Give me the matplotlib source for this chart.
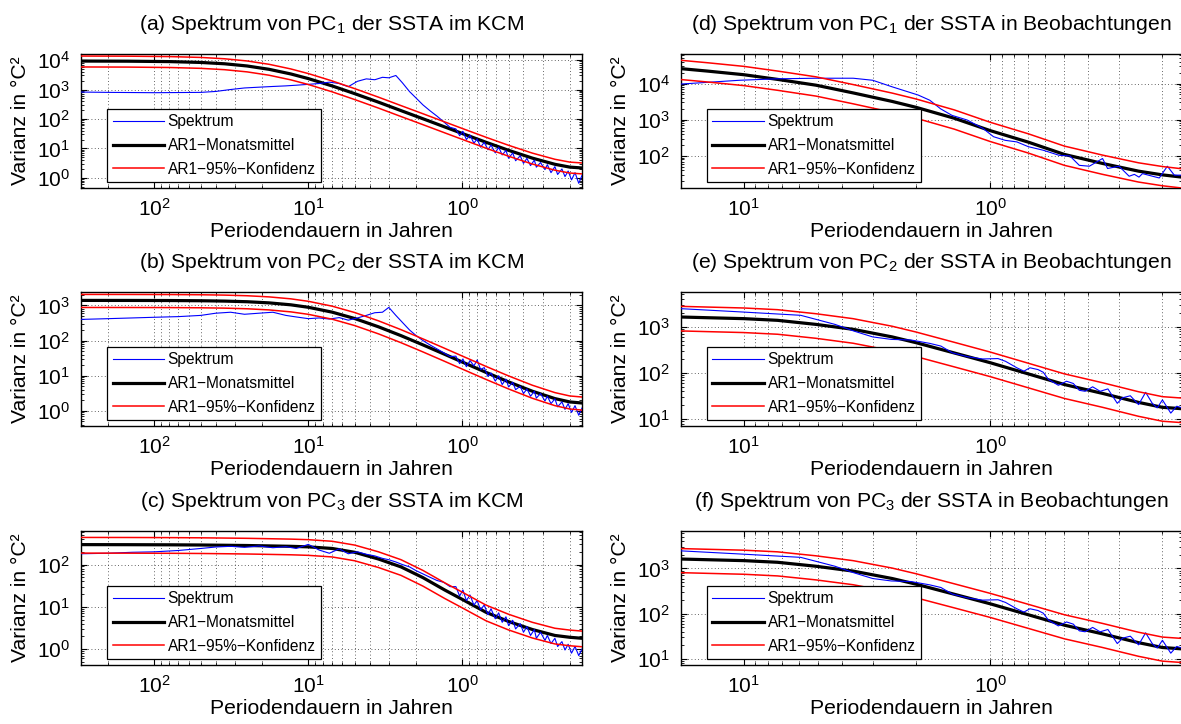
import numpy as np
import matplotlib.pyplot as plt
from matplotlib.ticker import LogLocator, NullFormatter

plt.rcParams['font.family'] = ['Liberation Sans', 'DejaVu Sans']
plt.rcParams['mathtext.fontset'] = 'custom'
plt.rcParams['mathtext.rm'] = 'Liberation Sans'
plt.rcParams['mathtext.it'] = 'Liberation Sans:italic'
plt.rcParams['mathtext.bf'] = 'Liberation Sans:bold'

# --- KCM (model run), periods in years ---
period_kcm = [300, 200, 140, 100, 70, 50, 40, 32, 26, 21, 17, 14, 12, 10, 8.5, 7.3, 6.3, 5.5,
              4.8, 4.2, 3.7, 3.3, 3.0, 2.7, 2.45, 2.2, 2.0, 1.8, 1.62, 1.46, 1.32, 1.2,
              1.10, 1.04, 0.99, 0.94, 0.89, 0.84, 0.80, 0.76, 0.72, 0.68, 0.65, 0.61, 0.58,
              0.55, 0.52, 0.50, 0.47, 0.45, 0.42, 0.40, 0.38, 0.36, 0.34, 0.33, 0.31, 0.29,
              0.28, 0.265, 0.25, 0.24, 0.225, 0.215, 0.205, 0.195, 0.185, 0.175, 0.1667]

spec_a = [820, 800, 790, 780, 790, 800, 860, 1000, 1130, 1200, 1270, 1330, 1400, 1500, 1600,
          1780, 1600, 1250, 1900, 2300, 2150, 2600, 2500, 3000, 1700, 850, 520, 300, 190, 125,
          80, 52,
          46, 27, 38, 20, 28, 15, 21, 11, 16, 9, 13, 7, 11, 6, 8.5, 4.6, 7, 3.8, 5.6, 3.1,
          4.6, 2.6, 4.0, 2.3, 3.3, 1.9, 2.8, 1.5, 2.4, 1.3, 2.0, 1.1, 1.7, 0.85, 1.5, 0.65, 1.2]

spec_b = [400, 420, 440, 460, 480, 520, 600, 640, 560, 600, 640, 520, 470, 420, 440, 410, 450,
          380, 440, 520, 620, 640, 880, 520, 330, 200, 140, 100, 75, 58, 45, 35,
          36, 22, 30, 18, 27, 19, 28, 15, 17, 9.5, 12, 7, 10, 5.6, 8, 4.8, 6.5, 4.0, 5.0, 3.1,
          4.2, 2.6, 3.6, 2.3, 3.1, 1.9, 2.6, 1.6, 2.2, 1.3, 1.8, 1.1, 1.6, 0.9, 1.4, 0.75, 1.2]

spec_c = [180, 185, 195, 200, 215, 240, 260, 270, 255, 275, 250, 265, 240, 300, 220, 185, 235,
          180, 200, 175, 160, 140, 130, 115, 100, 88, 72, 60, 50, 42, 38, 30,
          30, 18, 25, 14, 19, 11, 14, 8.5, 11, 6.5, 9, 5.2, 7.2, 4.3, 5.8, 3.6, 4.8, 3.0, 4.0,
          2.5, 3.4, 2.1, 2.9, 1.8, 2.5, 1.6, 2.1, 1.35, 1.8, 1.15, 1.5, 0.95, 1.3, 0.8, 1.15,
          0.7, 1.0]

period_ar_kcm = [300, 150, 80, 50, 35, 25, 18, 13, 10, 7, 5, 3.5, 2.5, 1.8, 1.3, 1.0, 0.7,
                 0.5, 0.35, 0.25, 0.2, 0.1667]
ar1_a = [9270, 9180, 8890, 8320, 7490, 6310, 4860, 3380, 2350, 1323, 725, 371, 192, 101.5,
         53.6, 32.1, 16.1, 8.6, 4.66, 2.88, 2.31, 2.16]
ar1_b = [1389, 1386, 1378, 1359, 1328, 1274, 1182, 1040, 885, 643, 424, 246, 138, 75.3, 40.6,
         24.5, 12.4, 6.66, 3.61, 2.23, 1.79, 1.67]
ar1_c = [296, 295, 293, 290, 286, 282, 276, 270, 262, 240, 195, 135, 88, 49, 25, 15, 7.4,
         4.5, 2.9, 2.1, 1.9, 1.8]
conf_kcm = (0.63, 1.48)   # 95% bounds relative to the AR1 mean

# --- observations ---
period_d = [18.3, 10.4, 7.3, 5.1, 3.6, 3.0, 2.5, 1.96, 1.76, 1.59, 1.43, 1.24, 1.07, 0.97,
            0.87, 0.78, 0.70, 0.61, 0.525, 0.475, 0.435, 0.396, 0.35, 0.334, 0.30, 0.273,
            0.26, 0.249, 0.241, 0.206, 0.191, 0.179, 0.1667]
spec_d = [9600, 12300, 13500, 14000, 14000, 12300, 8100, 4800, 3460, 2000, 1320, 980, 575,
          340, 270, 244, 180, 144, 104, 100, 55, 52, 85, 45, 52, 27.5, 31, 26, 32.5, 24.6,
          52, 29.5, 29.5]

period_e = [18.3, 10.4, 5.88, 5.1, 4.27, 3.58, 3.0, 2.52, 2.1, 1.76, 1.585, 1.426, 1.236,
            1.074, 0.93, 0.867, 0.78, 0.73, 0.69, 0.64, 0.609, 0.58, 0.529, 0.49, 0.46,
            0.435, 0.412, 0.384, 0.358, 0.333, 0.305, 0.29, 0.27, 0.25, 0.234, 0.22, 0.21,
            0.2, 0.185, 0.175, 0.1667]
spec_e = [2460, 2090, 1760, 1440, 1120, 805, 600, 530, 515, 435, 380, 272, 224, 200, 204,
          178, 129, 109, 129, 118, 103, 72, 54, 66, 59, 42, 40, 50, 40, 45, 22, 29, 32, 20.6,
          38, 22, 17.5, 26, 13.5, 19, 17.5]

period_ar_obs = [18.3, 14, 10, 7.3, 5.1, 3.6, 2.5, 2.0, 1.4, 1.0, 0.7, 0.5, 0.35, 0.25,
                 0.2, 0.1667]
ar1_d = [26000, 22000, 17500, 13000, 9000, 5500, 3200, 2200, 1100, 500, 240, 110, 62, 38,
         30, 26]
ar1_e = [1620, 1560, 1490, 1370, 1120, 875, 600, 450, 270, 166, 95, 56, 36, 23, 18, 16.8]
conf_obs = (0.5, 1.7)

panels = [
    ('(a) Spektrum von PC$_1$ der SSTA im KCM', period_kcm, spec_a, period_ar_kcm, ar1_a,
     conf_kcm, (300, 1 / 6), (0.45, 16000)),
    ('(b) Spektrum von PC$_2$ der SSTA im KCM', period_kcm, spec_b, period_ar_kcm, ar1_b,
     conf_kcm, (300, 1 / 6), (0.37, 2400)),
    ('(c) Spektrum von PC$_3$ der SSTA im KCM', period_kcm, spec_c, period_ar_kcm, ar1_c,
     conf_kcm, (300, 1 / 6), (0.42, 620)),
    ('(d) Spektrum von PC$_1$ der SSTA in Beobachtungen', period_d, spec_d, period_ar_obs,
     ar1_d, conf_obs, (18.0, 1 / 6), (13, 65000)),
    ('(e) Spektrum von PC$_2$ der SSTA in Beobachtungen', period_e, spec_e, period_ar_obs,
     ar1_e, conf_obs, (18.0, 1 / 6), (7.1, 5600)),
    ('(f) Spektrum von PC$_3$ der SSTA in Beobachtungen', period_e, spec_e, period_ar_obs,
     ar1_e, conf_obs, (18.0, 1 / 6), (7.4, 6700)),
]

fig = plt.figure(figsize=(11.81, 7.24), dpi=100)
col_x = [0.0686, 0.5766]
row_y = [0.7403, 0.4116, 0.0815]
w, h = 0.4242, 0.185
fs = 15

for i, (title, px, spec, pa, ar1, conf, xl, yl) in enumerate(panels):
    ax = fig.add_axes([col_x[i // 3], row_y[i % 3], w, h])
    ar1 = np.array(ar1)
    l_ar, = ax.plot(pa, ar1, color='k', lw=2.3, zorder=3)
    l_sp, = ax.plot(px, spec, color='b', lw=0.8, zorder=4)
    l_ci, = ax.plot(pa, ar1 * conf[1], color='r', lw=1.1, zorder=5)
    ax.plot(pa, ar1 * conf[0], color='r', lw=1.1, zorder=5)

    ax.set_xscale('log')
    ax.set_yscale('log')
    ax.set_xlim(xl)
    ax.set_ylim(yl)
    for axis in (ax.xaxis, ax.yaxis):
        axis.set_major_locator(LogLocator(base=10, numticks=30))
        axis.set_minor_locator(LogLocator(base=10, subs=np.arange(2, 10), numticks=30))
        axis.set_minor_formatter(NullFormatter())

    dots = dict(color='0.2', linestyle=(0, (1, 3)), linewidth=0.6)
    ax.grid(True, which='major', **dots)
    ax.xaxis.grid(True, which='minor', **dots)

    ax.tick_params(which='both', direction='in', top=True, right=True, labelsize=fs)
    ax.tick_params(which='major', length=4)
    ax.tick_params(which='minor', length=2)
    ax.tick_params(axis='x', pad=7)
    ax.tick_params(axis='y', pad=8)
    for s in ax.spines.values():
        s.set_linewidth(1.0)

    ax.set_title(title, fontsize=15.2, pad=17)
    ax.set_xlabel('Periodendauern in Jahren', fontsize=15.2, labelpad=2)
    ax.set_ylabel('Varianz in °C²', fontsize=15.2, labelpad=5)

    leg = ax.legend([l_sp, l_ar, l_ci],
                    ['Spektrum', 'AR1\u2212Monatsmittel', 'AR1\u221295%\u2212Konfidenz'],
                    loc='lower left', bbox_to_anchor=(0.052, 0.045), borderaxespad=0,
                    fontsize=11.2, fancybox=False, framealpha=1, edgecolor='k',
                    labelspacing=0.55, borderpad=0.35, handlelength=3.3,
                    handletextpad=0.25)
    leg.get_frame().set_linewidth(0.9)
    leg.set_zorder(10)

fig.savefig('out.png', dpi=100)
